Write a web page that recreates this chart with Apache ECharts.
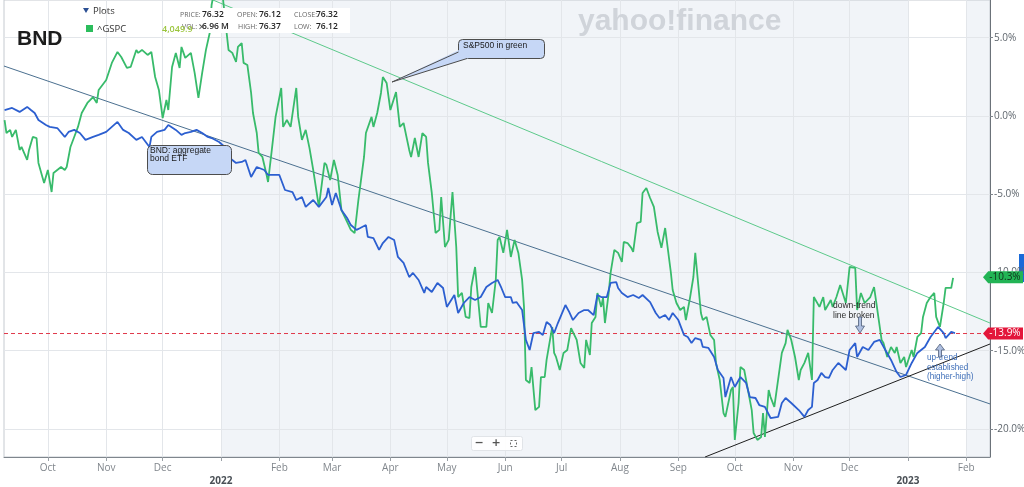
<!DOCTYPE html>
<html>
<head>
<meta charset="utf-8">
<title>BND vs ^GSPC</title>
<script src="https://cdn.jsdelivr.net/npm/echarts@6/dist/echarts.min.js"></script>
<style>
  html, body { margin: 0; padding: 0; background: #fff; }
  #main { width: 1024px; height: 487px; }
</style>
</head>
<body>
<div id="main"></div>
<script>
// x values are days counted from 2022-01-01, y values are % change
const bndDay = [
  -115, -111, -107, -103, -101, -99, -97, -93, -91, -90,
  -87, -83, -81, -78, -75, -72, -68, -65, -61, -58,
  -55, -52, -49, -45, -42, -38, -37, -34, -30, -28,
  -24, -21, -19, -16, -13, -10, -7, -5, -1, 2,
  4, 8, 11, 13, 16, 19, 23, 25, 31, 34,
  38, 40, 43, 45, 49, 52, 56, 57, 59, 61,
  64, 67, 69, 72, 74, 77, 78, 81, 84, 86,
  89, 92, 94, 97, 100, 102, 105, 108, 109, 112,
  115, 118, 120, 124, 126, 129, 132, 135, 138, 141,
  144, 147, 149, 151, 154, 155, 157, 160, 162, 164,
  166, 169, 171, 173, 175, 177, 179, 183, 185, 187,
  190, 193, 195, 198, 200, 202, 205, 207, 210, 211,
  213, 216, 219, 222, 224, 228, 231, 233, 236, 238,
  240, 243, 246, 248, 250, 252, 255, 256, 259, 262,
  264, 267, 268, 271, 273, 276, 279, 281, 284, 286,
  289, 292, 296, 298, 300, 303, 307, 310, 312, 314,
  315, 317, 319, 321, 323, 325, 328, 329, 332, 334,
  337, 338, 341, 344, 347, 350, 353, 356, 359, 361,
  364, 367, 370, 374, 377, 381, 384, 385, 388, 390
];
const bndPct = [
  0.38, 0.51, 0.26, 0.58, 0.38, 0.19, -0.26, -0.58, -0.70, -0.58,
  -0.77, -1.34, -1.02, -0.89, -1.09, -1.53, -1.34, -1.21, -1.02, -0.70,
  -0.38, -0.89, -1.09, -1.53, -1.34, -1.98, -1.34, -1.02, -0.89, -0.58,
  -0.89, -1.21, -1.09, -1.02, -0.89, -1.09, -1.34, -1.41, -1.66, -1.98,
  -2.62, -3.00, -2.94, -2.81, -3.90, -3.26, -3.45, -3.77, -3.77, -4.73,
  -4.86, -5.37, -5.18, -5.81, -5.37, -5.81, -5.18, -4.60, -5.69, -4.92,
  -6.01, -6.52, -6.97, -7.28, -7.16, -6.97, -7.73, -7.80, -8.56, -8.12,
  -7.73, -7.92, -9.01, -9.39, -10.29, -10.03, -10.48, -11.31, -10.93, -11.25,
  -10.67, -10.99, -12.20, -11.44, -12.59, -11.95, -11.57, -11.76, -11.57, -10.93,
  -10.67, -10.48, -10.99, -11.57, -11.57, -11.95, -11.89, -12.40, -14.31, -14.95,
  -13.87, -13.80, -13.99, -13.16, -13.36, -13.87, -13.23, -12.08, -12.52, -13.04,
  -12.59, -12.40, -12.40, -12.72, -11.44, -11.57, -11.57, -10.67, -10.61, -10.99,
  -11.31, -11.57, -11.44, -11.63, -11.44, -11.89, -12.59, -12.91, -12.72, -13.04,
  -12.59, -13.04, -13.99, -14.12, -14.51, -14.19, -14.31, -14.76, -14.82, -15.40,
  -16.23, -16.74, -17.96, -16.68, -17.32, -16.68, -17.06, -17.96, -18.02, -18.47,
  -18.59, -19.30, -19.23, -18.34, -18.02, -18.34, -18.79, -19.23, -18.79, -18.59,
  -17.06, -16.87, -16.42, -16.68, -16.74, -16.23, -15.78, -15.78, -16.23, -14.95,
  -14.51, -15.40, -14.76, -14.95, -14.44, -14.31, -14.95, -15.59, -16.36, -16.68,
  -16.55, -15.78, -15.14, -14.76, -14.12, -13.48, -13.87, -14.19, -13.80, -13.87
];
const spDay = [
  -115, -114, -112, -111, -109, -107, -106, -103, -102, -100,
  -98, -97, -94, -92, -90, -89, -87, -85, -83, -82,
  -80, -78, -76, -74, -71, -68, -66, -65, -61, -58,
  -55, -53, -50, -48, -45, -44, -42, -39, -37, -35,
  -33, -31, -29, -28, -26, -24, -22, -21, -19, -16,
  -14, -12, -10, -8, -6, -5, -4, -1, 1, 3,
  4, 6, 8, 9, 11, 12, 14, 16, 17, 19,
  20, 22, 24, 25, 27, 29, 32, 33, 35, 37,
  40, 41, 43, 45, 47, 49, 52, 55, 56, 58,
  60, 62, 64, 67, 69, 71, 73, 76, 77, 80,
  81, 83, 85, 86, 88, 90, 93, 95, 97, 100,
  101, 103, 105, 107, 109, 110, 112, 114, 116, 117,
  119, 121, 123, 125, 126, 128, 130, 132, 133, 135,
  137, 138, 141, 142, 144, 146, 147, 148, 150, 152,
  154, 156, 158, 160, 161, 162, 164, 165, 167, 169,
  170, 172, 173, 176, 177, 178, 180, 182, 184, 186,
  187, 189, 191, 193, 194, 196, 197, 199, 200, 202,
  203, 204, 206, 207, 209, 211, 213, 214, 216, 218,
  219, 221, 223, 224, 226, 228, 230, 232, 234, 236,
  239, 240, 242, 244, 246, 247, 249, 251, 252, 255,
  256, 258, 260, 262, 263, 265, 267, 268, 271, 272,
  273, 275, 276, 278, 280, 282, 283, 285, 287, 288,
  289, 291, 292, 294, 296, 298, 300, 301, 303, 305,
  307, 308, 310, 312, 314, 315, 316, 318, 320, 321,
  324, 325, 327, 329, 330, 332, 334, 337, 338, 340,
  342, 345, 347, 348, 351, 352, 354, 356, 358, 359,
  361, 363, 364, 367, 368, 370, 372, 373, 375, 377,
  379, 380, 382, 384, 385, 388, 389
];
const spPct = [
  -0.26, -1.09, -0.89, -1.34, -0.89, -2.17, -1.98, -2.81, -2.17, -1.34,
  -1.41, -3.00, -4.28, -3.45, -4.86, -3.64, -3.45, -3.26, -3.45, -3.26,
  -1.98, -1.34, -0.70, 0.19, 0.83, 1.21, 0.83, 1.66, 2.30, 3.39,
  4.09, 3.77, 3.07, 3.13, 4.22, 4.03, 4.22, 3.90, 4.09, 2.49,
  1.66, -0.13, 1.02, 0.38, 3.13, 4.03, 3.07, 4.41, 3.71, 4.03,
  2.75, 1.15, 2.75, 4.22, 5.30, 7.09, 7.73, 8.05, 7.54, 5.30,
  4.22, 4.03, 3.45, 4.41, 4.66, 3.39, 3.26, 1.47, 0.19, -1.09,
  -2.36, -2.62, -3.64, -4.22, -2.17, -0.06, 1.79, -0.70, -0.26, -0.70,
  1.79, -0.06, -1.53, -0.89, -2.04, -3.45, -5.81, -3.00, -3.13, -4.09,
  -2.81, -3.77, -6.01, -6.77, -7.28, -7.48, -5.37, -2.62, -1.09, -0.06,
  -0.70, 0.19, 1.47, 2.49, 2.11, 0.38, 1.53, -0.70, -0.45, -2.17,
  -2.62, -1.41, -2.62, -1.09, -1.34, -3.00, -4.92, -7.48, -7.28, -5.18,
  -8.37, -7.92, -4.86, -8.37, -11.57, -11.31, -12.84, -12.91, -10.93, -9.65,
  -12.20, -13.48, -13.48, -11.95, -12.59, -10.48, -7.92, -7.73, -8.75, -7.28,
  -9.01, -7.92, -8.75, -10.48, -12.20, -16.87, -17.06, -16.04, -18.79, -18.59,
  -16.68, -16.68, -15.59, -13.48, -15.14, -15.40, -16.23, -15.14, -14.95, -13.55,
  -13.55, -14.31, -15.78, -16.10, -14.31, -15.27, -13.23, -12.84, -11.31, -12.20,
  -11.63, -13.23, -11.31, -10.03, -8.56, -8.75, -9.33, -8.05, -8.12, -8.43,
  -8.69, -6.84, -6.77, -4.92, -4.60, -5.24, -5.81, -7.41, -8.43, -7.16,
  -9.97, -11.12, -11.95, -12.40, -12.20, -13.04, -11.76, -10.29, -8.75, -12.59,
  -13.04, -12.84, -13.99, -14.31, -15.78, -16.87, -18.98, -19.23, -17.51, -17.32,
  -20.70, -18.34, -16.04, -16.23, -17.51, -18.79, -20.26, -20.70, -20.51, -18.98,
  -20.51, -17.51, -17.96, -18.59, -16.87, -15.14, -14.51, -13.67, -14.31, -15.40,
  -16.87, -16.23, -15.78, -15.14, -16.87, -11.57, -11.57, -12.20, -11.57, -12.40,
  -11.76, -12.20, -11.57, -10.80, -10.80, -11.95, -9.65, -9.71, -12.40, -11.31,
  -11.95, -11.57, -10.93, -11.76, -14.31, -14.51, -15.40, -14.76, -15.14, -14.76,
  -15.78, -15.40, -16.04, -14.95, -15.40, -14.12, -13.87, -12.84, -11.95, -11.57,
  -11.31, -12.84, -13.48, -11.95, -10.99, -10.99, -10.35
];

// axis ticks (month starts as days from 2022-01-01)
const monthDay = [-92, -61, -31, 0, 31, 59, 90, 120, 151, 181, 212, 243, 273, 304, 334, 365, 396];
const monthLabel = ['Oct', 'Nov', 'Dec', '2022', 'Feb', 'Mar', 'Apr', 'May', 'Jun', 'Jul',
  'Aug', 'Sep', 'Oct', 'Nov', 'Dec', '2023', 'Feb'];
const pctTicks = [-20, -15, -10, -5, 0, 5];

// hand drawn trend lines, [day, %] end points
const bndTrend = [[-115.3, 3.19], [408.6, -18.40]];
const spTrend = [[-4.3, 7.41], [408.6, -13.23]];
const upTrend = [[257.2, -21.79], [408.6, -14.57]];

// last values and shaded periods
const bndLast = -13.9;
const spLast = -10.3;
const shadedDays = [[0, 365], [396, 420]];

const xStart = -115.3, xEnd = 408.6;
const yMin = -21.79, yMax = 7.41;

const zip = (a, b) => a.map((d, i) => [d, b[i]]);

const labelFont = '"Liberation Sans", Arial, sans-serif';

var myChart = echarts.init(document.getElementById('main'));

const tag = (value, bg, fg) => ({
    coord: [xEnd, value],
    symbol: 'path://M0,6 L6,0 L46,0 L46,12 L6,12 Z',
    symbolSize: [40, 12],
    symbolKeepAspect: false,
    symbolOffset: [13, 0],
    itemStyle: { color: bg },
    label: {
        show: true, position: 'inside', offset: [2, 0],
        formatter: value.toFixed(1) + '%', color: fg, fontSize: 10, fontFamily: 'Open Sans'
    }
});

const option = {
    animation: false,
    backgroundColor: '#fff',
    textStyle: { fontFamily: 'Open Sans' },
    grid: {
        left: 4, right: 34, top: 0, bottom: 30,
        outerBoundsMode: 'none', containLabel: false,
        show: true, borderColor: '#c5cad0', borderWidth: 1
    },
    xAxis: {
        type: 'value', min: xStart, max: xEnd,
        axisLine: { onZero: false, lineStyle: { color: '#7f868d' } },
        axisTick: { customValues: monthDay, length: 4, lineStyle: { color: '#9aa0a6' } },
        axisLabel: {
            customValues: monthDay,
            color: '#80868c', fontSize: 10, margin: 5, lineHeight: 13,
            formatter: function (v) {
                const i = monthDay.indexOf(Math.round(v));
                if (i < 0) return '';
                const t = monthLabel[i];
                return /^\d{4}$/.test(t) ? '\n{yr|' + t + '}' : t;
            },
            rich: { yr: { fontWeight: 'bold', color: '#4a5056', fontSize: 10, lineHeight: 13 } }
        },
        splitLine: { show: true, lineStyle: { color: '#e3e6ea' } }
    },
    yAxis: {
        type: 'value', position: 'right', min: yMin, max: yMax,
        axisLine: { show: true, onZero: false, lineStyle: { color: '#6b7279', width: 1 } },
        axisTick: { show: true, customValues: pctTicks, length: 3, lineStyle: { color: '#7f868d' } },
        axisLabel: {
            customValues: pctTicks, color: '#5f666d', fontSize: 10, margin: 4,
            formatter: v => v.toFixed(1) + '%'
        },
        splitLine: { show: true, lineStyle: { color: '#e3e6ea' } }
    },
    series: [
        {
            // background shading of the periods
            name: 'shade', type: 'line', data: [], z: -1, silent: true,
            markArea: {
                silent: true, z: -1,
                itemStyle: { color: '#f1f4f8' },
                data: shadedDays.map(p => [{ xAxis: p[0] }, { xAxis: p[1] }])
            }
        },
        {
            // dashed line at the last BND value
            name: 'BND last', type: 'line', data: [[xStart, bndLast], [xEnd, bndLast]],
            symbol: 'none', silent: true, z: 3,
            lineStyle: { color: '#e0384b', type: [4, 3], width: 1 }
        },
        {
            name: 'S&P trend', type: 'line', data: spTrend, symbol: 'none', silent: true,
            lineStyle: { color: '#5cc98a', width: 1 }, z: 3
        },
        {
            name: 'BND trend', type: 'line', data: bndTrend, symbol: 'none', silent: true,
            lineStyle: { color: '#4b7090', width: 1 }, z: 3
        },
        {
            name: 'up trend', type: 'line', data: upTrend, symbol: 'none', silent: true,
            lineStyle: { color: '#1e1e1e', width: 1 }, z: 3
        },
        {
            name: '^GSPC', type: 'line', data: zip(spDay, spPct), symbol: 'none',
            lineStyle: { color: '#38bb6b', width: 1.8 }, z: 4,
            markPoint: { silent: true, data: [tag(spLast, '#22b455', '#10301c')] }
        },
        {
            name: 'BND', type: 'line', data: zip(bndDay, bndPct), symbol: 'none',
            lineStyle: { color: '#2c5fd0', width: 1.8 }, z: 5,
            markPoint: { silent: true, data: [tag(bndLast, '#e3163a', '#ffffff')] }
        }
    ],
    graphic: [
        // watermark
        { type: 'text', z: 20, silent: true, style: { text: 'yahoo!finance', x: 578, y: 22, verticalAlign: 'middle', font: 'bold 30px ' + labelFont, fill: '#d0d4da' } },
        // title
        { type: 'text', z: 50, style: { text: 'BND', x: 17, y: 39, verticalAlign: 'middle', font: 'bold 21px ' + labelFont, fill: '#1c1c1c' } },
        // legend
        { type: 'polygon', z: 50, shape: { points: [[83, 8], [89, 8], [86, 13]] }, style: { fill: '#2b4f93' } },
        { type: 'text', z: 50, style: { text: 'Plots', x: 93, y: 11, verticalAlign: 'middle', font: '9.5px "Open Sans"', fill: '#333' } },
        { type: 'rect', z: 50, shape: { x: 86, y: 25, width: 7, height: 7 }, style: { fill: '#2bbd5c' } },
        { type: 'text', z: 50, style: { text: '^GSPC', x: 97, y: 29, verticalAlign: 'middle', font: '9.5px "Open Sans"', fill: '#333' } },
        // info panel
        { type: 'rect', z: 50, shape: { x: 175, y: 8, width: 175, height: 25 }, style: { fill: '#ffffff' } },
        { type: 'text', z: 51, style: { text: 'PRICE:', x: 180, y: 15, verticalAlign: 'middle', font: '7px "Open Sans"', fill: '#666' } },
        { type: 'text', z: 51, style: { text: '76.32', x: 202, y: 15, verticalAlign: 'middle', font: '600 8.5px "Open Sans"', fill: '#222' } },
        { type: 'text', z: 51, style: { text: 'OPEN:', x: 237, y: 15, verticalAlign: 'middle', font: '7px "Open Sans"', fill: '#666' } },
        { type: 'text', z: 51, style: { text: '76.12', x: 259, y: 15, verticalAlign: 'middle', font: '600 8.5px "Open Sans"', fill: '#222' } },
        { type: 'text', z: 51, style: { text: 'CLOSE:', x: 294, y: 15, verticalAlign: 'middle', font: '7px "Open Sans"', fill: '#666' } },
        { type: 'text', z: 51, style: { text: '76.32', x: 316, y: 15, verticalAlign: 'middle', font: '600 8.5px "Open Sans"', fill: '#222' } },
        { type: 'text', z: 51, style: { text: 'VOL:', x: 182, y: 27, verticalAlign: 'middle', font: '7px "Open Sans"', fill: '#666' } },
        { type: 'text', z: 51, style: { text: '6.96 M', x: 202, y: 27, verticalAlign: 'middle', font: '600 8.5px "Open Sans"', fill: '#222' } },
        { type: 'text', z: 51, style: { text: 'HIGH:', x: 238, y: 27, verticalAlign: 'middle', font: '7px "Open Sans"', fill: '#666' } },
        { type: 'text', z: 51, style: { text: '76.37', x: 259, y: 27, verticalAlign: 'middle', font: '600 8.5px "Open Sans"', fill: '#222' } },
        { type: 'text', z: 51, style: { text: 'LOW:', x: 294, y: 27, verticalAlign: 'middle', font: '7px "Open Sans"', fill: '#666' } },
        { type: 'text', z: 51, style: { text: '76.12', x: 316, y: 27, verticalAlign: 'middle', font: '600 8.5px "Open Sans"', fill: '#222' } },
        { type: 'text', z: 52, style: { text: '4,049.9', x: 162, y: 29, verticalAlign: 'middle', font: '600 9px "Open Sans"', fill: '#9bc53d' } },
        { type: 'text', z: 52, style: { text: '✕', x: 198, y: 28, verticalAlign: 'middle', font: '9px "DejaVu Sans"', fill: '#555' } },
        // BND callout
        { type: 'rect', z: 60, shape: { x: 147.5, y: 145.5, width: 84, height: 29, r: 5 }, style: { fill: '#c6d7f6', stroke: '#4d4d4d', lineWidth: 1 } },
        { type: 'text', z: 61, style: { text: 'BND: aggregate\nbond ETF', x: 150, y: 147, lineHeight: 8, font: '8.5px ' + labelFont, fill: '#1a1a1a' } },
        // S&P500 callout with pointer
        { type: 'rect', z: 60, shape: { x: 458.5, y: 39.5, width: 86, height: 19, r: 4 }, style: { fill: '#c6d7f6', stroke: '#4d4d4d', lineWidth: 1 } },
        { type: 'polygon', z: 61, shape: { points: [[459, 50], [392, 82], [469, 58], [469, 50]] }, style: { fill: '#c6d7f6' } },
        { type: 'polyline', z: 62, shape: { points: [[458.5, 52], [392, 82], [467, 58.5]] }, style: { stroke: '#4d4d4d', lineWidth: 1, fill: null } },
        { type: 'text', z: 63, style: { text: 'S&P500 in green', x: 463, y: 46, verticalAlign: 'middle', font: '8.5px ' + labelFont, fill: '#1a1a1a' } },
        // down-trend note
        { type: 'text', z: 60, style: { text: 'down-trend\nline broken', x: 833, y: 301, lineHeight: 10, font: '8.5px ' + labelFont, fill: '#2a2a2a' } },
        { type: 'polygon', z: 60, shape: { points: [[858.5, 317], [861.5, 317], [861.5, 326], [864.5, 326], [860, 333], [855.5, 326], [858.5, 326]] }, style: { fill: '#aebfe0', stroke: '#4e5d78', lineWidth: 0.8 } },
        // up-trend note
        { type: 'text', z: 60, style: { text: 'up-trend\nestablished\n(higher-high)', x: 927, y: 353, lineHeight: 9.5, font: '8.2px ' + labelFont, fill: '#3f6fb8' } },
        { type: 'polygon', z: 60, shape: { points: [[938.5, 357], [941.5, 357], [941.5, 350], [944.5, 350], [940, 344], [935.5, 350], [938.5, 350]] }, style: { fill: '#aebfe0', stroke: '#4e5d78', lineWidth: 0.8 } },
        // zoom controls
        { type: 'rect', z: 60, shape: { x: 471.5, y: 436.5, width: 51, height: 14, r: 2 }, style: { fill: 'rgba(255,255,255,0.9)', stroke: '#e1e4e8' } },
        { type: 'text', z: 61, style: { text: '−', x: 479, y: 443.5, align: 'center', verticalAlign: 'middle', font: 'bold 11px "DejaVu Sans"', fill: '#555' } },
        { type: 'text', z: 61, style: { text: '+', x: 496, y: 443.5, align: 'center', verticalAlign: 'middle', font: 'bold 11px "DejaVu Sans"', fill: '#555' } },
        { type: 'rect', z: 61, shape: { x: 510.5, y: 440.5, width: 6, height: 6 }, style: { fill: null, stroke: '#666', lineWidth: 1, lineDash: [2, 2] } },
        // right edge button sliver
        { type: 'rect', z: 0, shape: { x: 1019, y: 254, width: 5, height: 28 }, style: { fill: '#1a6ad8' } }
    ]
};

myChart.setOption(option);
</script>
</body>
</html>
